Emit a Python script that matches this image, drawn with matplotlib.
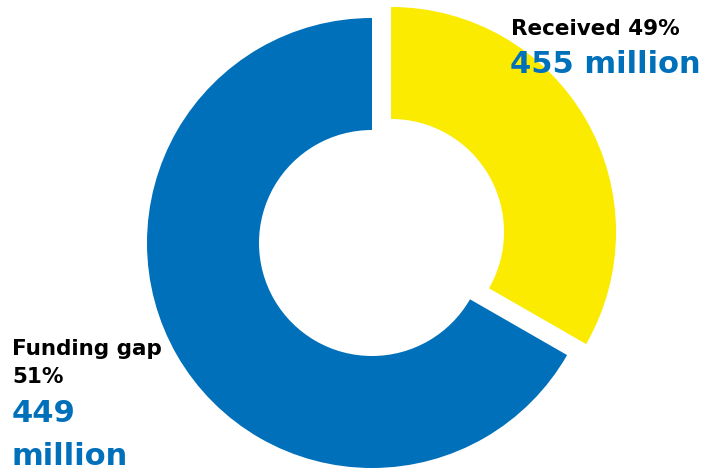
import matplotlib
matplotlib.use("Agg")
import matplotlib.pyplot as plt

# Data
categories = ["Received", "Funding gap"]
percent_labels = ["49%", "51%"]
amount_labels = ["455 million", "449 million"]
# slice shares as drawn in the reference picture
slice_shares = [33.3, 66.7]
colors = ["#FAEB00", "#0070BA"]
text_blue = "#0070BA"

W, H = 710, 470
fig = plt.figure(figsize=(W / 100, H / 100), dpi=100)
ax = fig.add_axes([0, 0, 1, 1])

cx, cy = 372, H - 243
R = 225
ax.pie(slice_shares, colors=colors, startangle=90, counterclock=False,
       radius=R, center=(cx, cy), explode=[22, 0],
       wedgeprops=dict(width=112, edgecolor="none", linewidth=0))
ax.set_xlim(0, W)
ax.set_ylim(0, H)
ax.set_aspect("equal")
ax.axis("off")

font = "DejaVu Sans"
black_size = 15.5
blue_size = 22
# Received label (top right)
ax.text(511, H - 35, f"{categories[0]} {percent_labels[0]}", fontsize=black_size,
        fontweight="bold", color="black", ha="left", va="baseline", family=font)
ax.text(510, H - 73, amount_labels[0], fontsize=blue_size, fontweight="bold",
        color=text_blue, ha="left", va="baseline", family=font)

# Funding gap label (bottom left)
ax.text(12, H - 355, categories[1], fontsize=black_size, fontweight="bold",
        color="black", ha="left", va="baseline", family=font)
ax.text(12, H - 383, percent_labels[1], fontsize=black_size, fontweight="bold",
        color="black", ha="left", va="baseline", family=font)
amt_num, amt_unit = amount_labels[1].split(" ")
ax.text(12, H - 422, amt_num, fontsize=blue_size, fontweight="bold",
        color=text_blue, ha="left", va="baseline", family=font)
ax.text(12, H - 465, amt_unit, fontsize=blue_size, fontweight="bold",
        color=text_blue, ha="left", va="baseline", family=font)

fig.savefig("out.png", dpi=100)
